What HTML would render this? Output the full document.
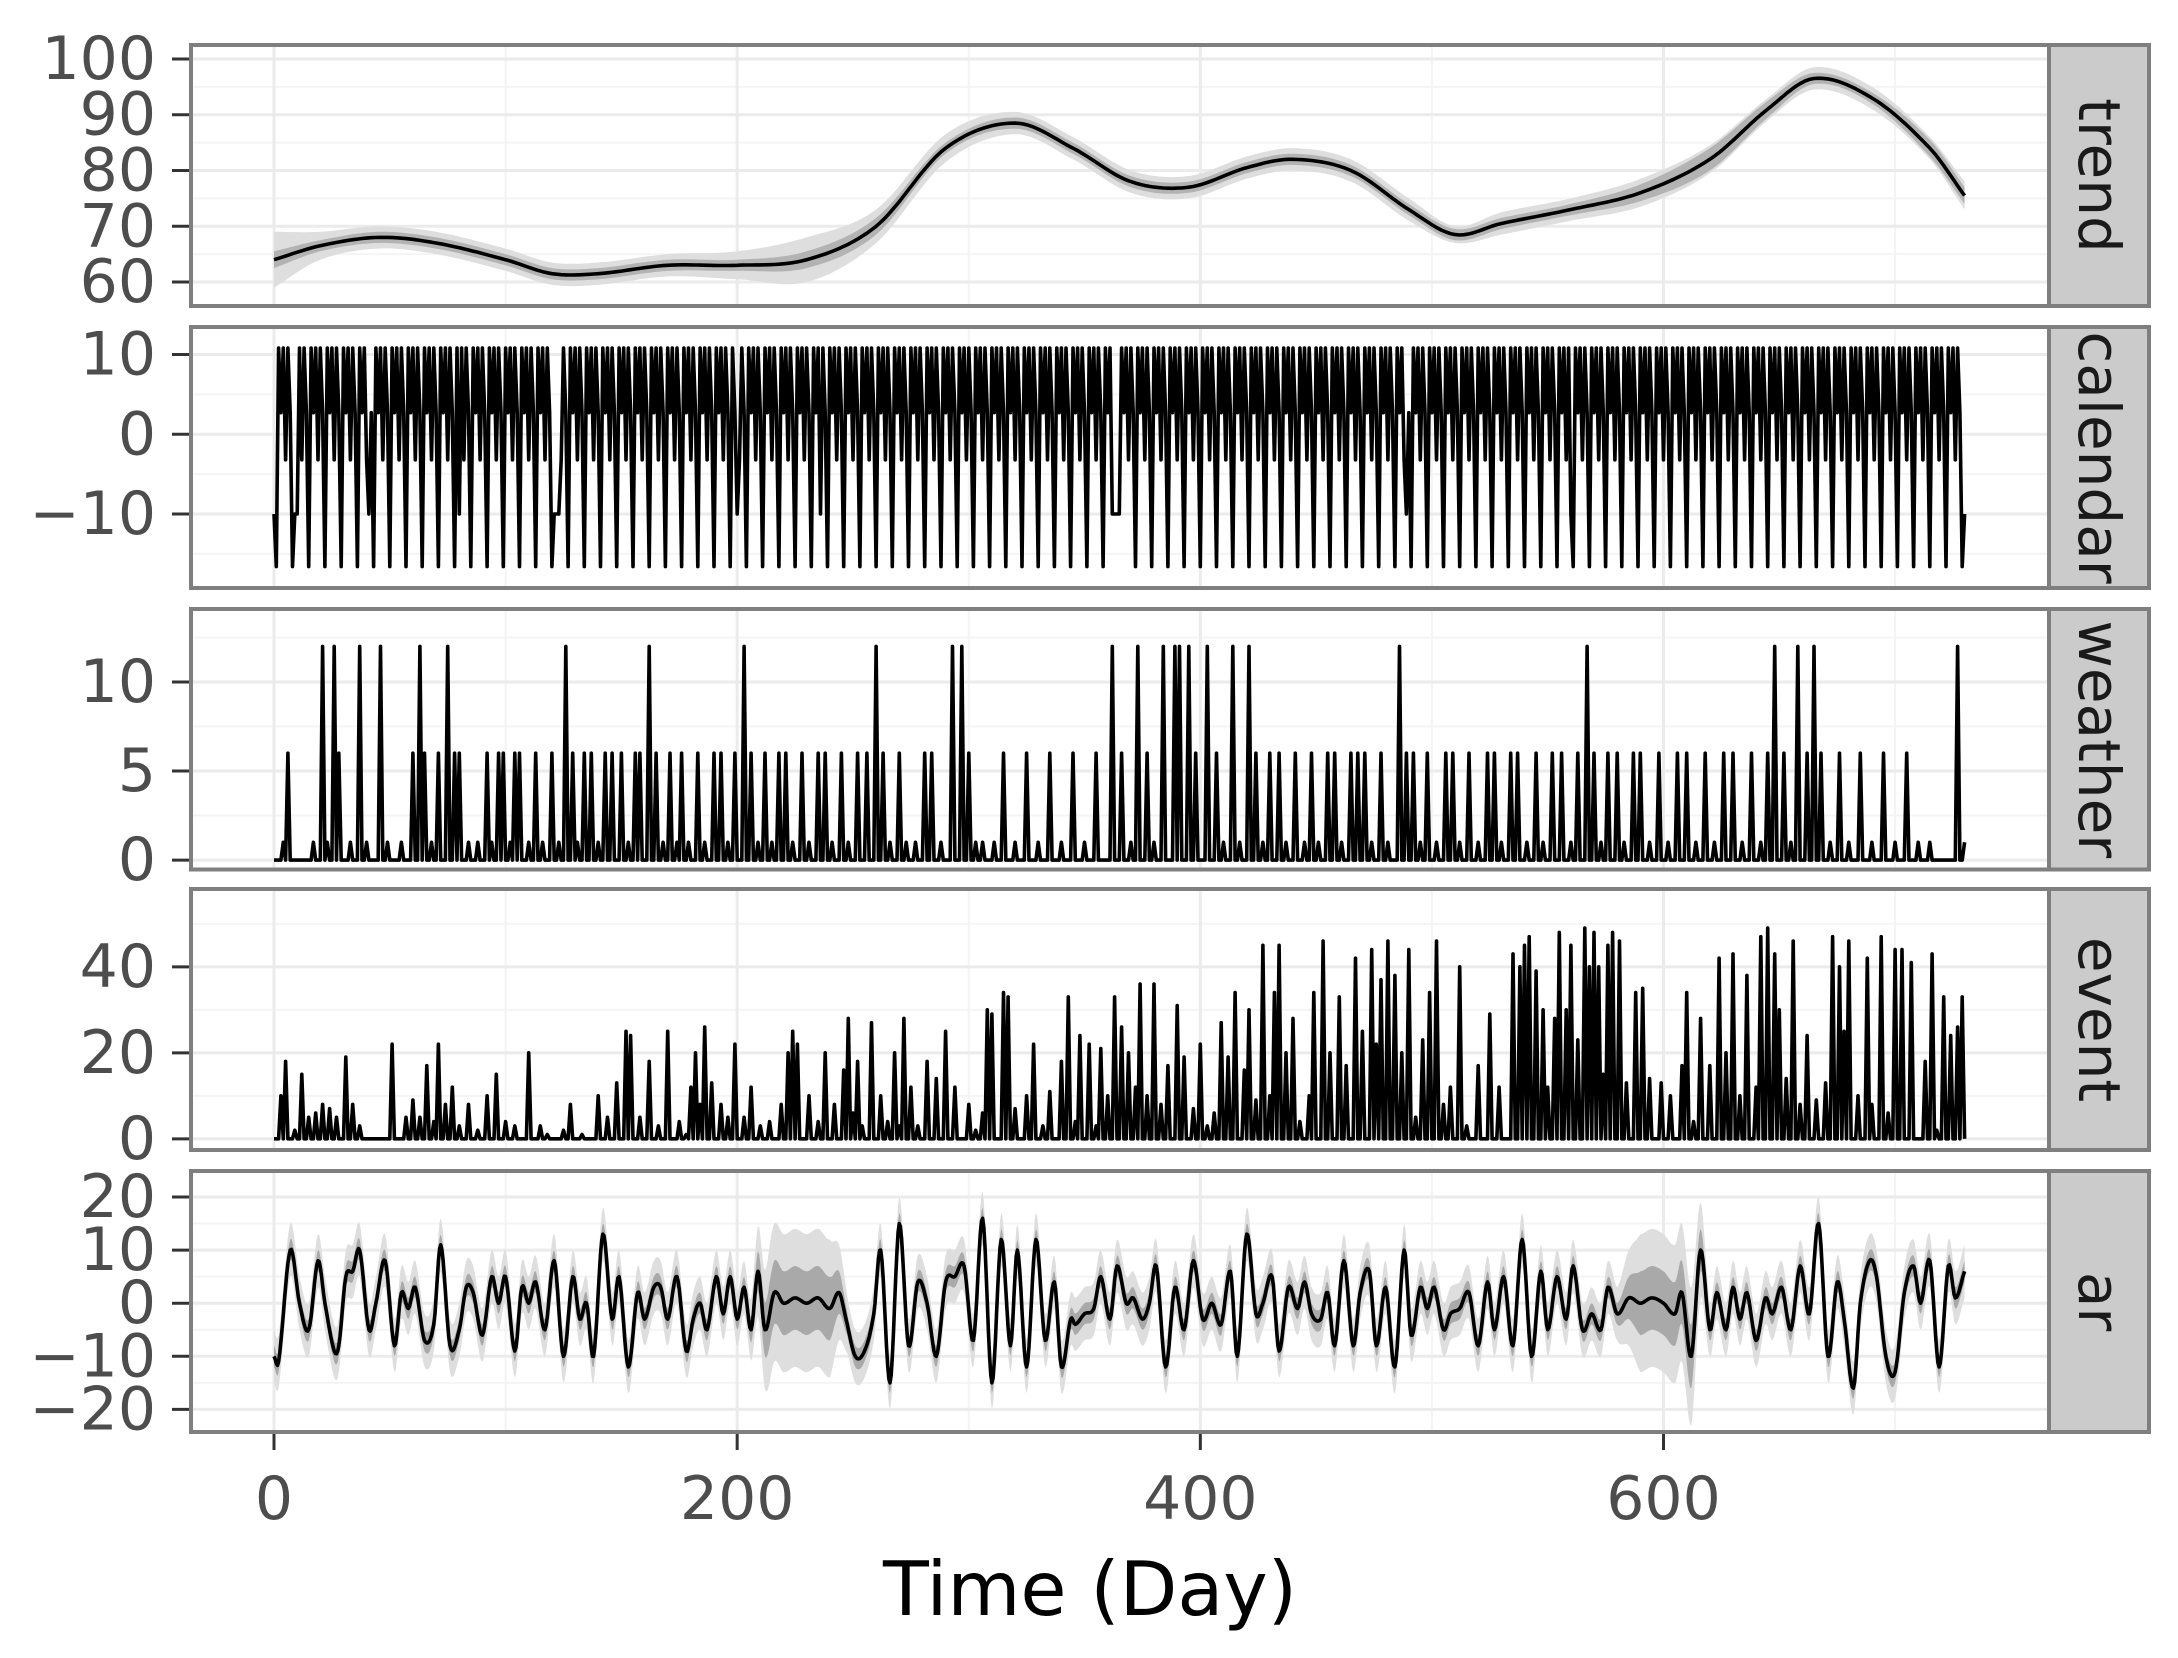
<!DOCTYPE html>
<html><head><meta charset="utf-8"><style>
html,body{margin:0;padding:0;background:#fff;}
svg{display:block;font-family:"DejaVu Sans","Liberation Sans",sans-serif;}
</style></head><body>
<svg id="chart" width="2178" height="1658" viewBox="0 0 2178 1658" xmlns="http://www.w3.org/2000/svg">
<rect x="0" y="0" width="2178" height="1658" fill="#fff"/>
<g id="root"></g>
<text x="1090" y="1615" font-size="75" text-anchor="middle" fill="#000">Time (Day)</text>
</svg>
<script>
// ---- data ----
const xTicks = [0, 200, 400, 600];
const xMinor = [100, 300, 500, 700];
const trendDays = [0,20,45,70,100,120,140,170,200,230,260,290,320,345,370,395,420,440,465,490,510,530,560,590,620,645,665,690,715,730];
const trendMean = [64,66.5,68,67,64,61.5,61.5,63,63,64,70,84,88.5,84,78,77,80.5,82,80,73,68.5,70.5,73,76,82,91,96.5,93,84,75.5];
const trendInner = [1.5,1,1,1,1,1,1,1,1,1.5,1.5,1,1,1,1,1,1,1,1,1,1,1,1,1.5,2,1.5,1,1,1.5,1.5];
const trendOuter = [5,2.5,2,2,2,2,2,2,2.5,4,3,2.5,2,2,2,2,2,2,2,2,1.5,2,2,2.5,2.5,2,2,2,2,2.5];
const calendarWeek = [-16.6, 10.8, 2.7, 10.8, -3.2, 10.8, 2.7];
const calendarHolidays = [0, 9, 10, 41, 80, 121, 122, 123, 200, 236, 362, 363, 364, 365, 489, 560, 730];
const weatherDays = [4,6,17,21,23,26,28,33,37,40,46,49,55,60,63,65,68,71,75,78,80,84,88,92,94,97,99,102,104,106,110,113,116,120,123,126,129,131,134,137,140,143,146,150,153,156,158,162,165,168,171,174,176,179,183,186,190,193,196,199,203,206,209,212,215,218,221,224,228,231,235,238,241,245,248,252,256,260,263,266,270,273,277,281,284,288,293,297,300,303,306,311,315,320,325,330,335,340,345,350,355,362,366,370,373,377,380,384,389,391,395,398,403,407,410,414,417,421,424,427,430,434,437,441,445,448,451,455,458,461,465,468,471,474,478,481,486,489,492,495,498,502,506,509,512,516,520,524,527,530,534,537,541,545,548,552,556,560,563,567,570,573,576,580,583,587,590,594,598,602,606,610,614,618,622,626,630,634,638,642,645,648,652,655,658,662,665,668,672,676,680,685,690,695,700,705,710,715,727,730];
const weatherVals = [1,6,1,12,1,12,6,1,12,1,12,1,1,6,12,6,1,6,12,6,6,1,1,6,1,6,6,1,6,6,1,6,1,6,1,12,6,1,6,6,1,6,6,6,1,6,6,12,6,1,6,1,6,1,6,1,6,6,1,6,12,6,1,6,1,6,6,1,6,1,6,6,1,6,1,6,6,12,6,1,6,1,1,6,6,1,12,12,6,1,1,1,6,1,6,1,6,1,6,1,6,12,6,1,12,6,1,12,12,12,12,6,12,6,1,12,1,12,6,1,6,6,1,6,1,6,1,6,6,1,6,6,6,1,6,1,12,6,6,1,6,1,6,6,1,6,1,6,6,1,6,6,1,6,1,6,6,1,6,12,6,1,6,6,1,6,6,1,6,1,6,6,1,6,1,6,6,1,6,1,6,12,6,1,12,6,12,6,1,6,1,6,1,6,1,6,1,1,12,1];
const eventDays = [3,5,9,12,15,18,21,24,27,31,34,37,51,57,60,63,66,69,71,74,77,80,84,88,92,96,100,104,110,115,118,125,128,133,140,144,148,152,154,158,162,166,170,175,178,180,182,184,186,189,193,196,199,203,206,210,214,219,222,224,226,231,235,238,242,246,248,250,252,254,258,262,265,268,270,272,275,278,282,286,290,294,300,303,306,308,310,315,317,320,325,328,332,335,340,343,346,348,352,355,357,360,363,366,369,372,374,377,380,383,386,390,393,397,400,403,406,409,412,415,419,421,424,427,430,432,434,437,440,443,447,449,453,456,460,463,467,470,474,476,478,481,484,487,490,493,496,499,502,505,508,512,515,520,525,529,535,538,540,542,545,548,550,553,555,558,560,563,566,568,570,572,574,576,578,581,584,588,591,594,599,603,608,610,613,616,620,624,627,630,633,636,640,642,645,648,650,653,656,659,662,666,670,673,676,678,680,684,688,690,694,697,700,703,707,713,716,718,721,724,727,729];
const eventVals = [10,18,2,15,5,6,8,7,5,19,8,3,22,5,9,5,17,4,22,8,12,3,8,2,10,15,4,3,20,3,1,2,8,1,10,5,13,25,24,5,18,3,25,4,1,12,20,8,26,13,8,5,22,5,12,3,4,8,20,25,22,10,4,20,8,16,28,6,18,3,27,10,4,20,3,28,12,3,18,14,25,12,8,2,6,30,29,34,33,7,10,22,3,11,18,33,4,24,22,3,21,10,33,26,20,12,36,10,36,8,17,31,19,7,22,3,6,27,19,34,16,30,9,45,10,34,45,20,28,4,10,34,46,20,33,17,42,25,44,22,37,46,38,20,44,5,23,34,46,8,12,40,3,17,29,12,43,40,45,47,39,30,12,28,48,30,45,23,49,40,48,40,15,45,48,46,13,34,35,14,13,10,17,34,4,28,17,42,20,43,10,38,12,47,49,43,30,14,46,8,24,9,13,47,40,25,46,10,42,8,47,6,44,44,41,18,43,2,33,24,26,33];
const arDays = [0,2,7,11,15,19,22,26,28,31,34,37,41,44,48,52,55,58,61,65,69,72,76,80,83,86,90,94,97,100,104,107,110,113,117,121,125,129,132,135,138,142,146,149,153,157,160,164,167,170,174,178,181,184,187,191,194,197,200,203,206,209,212,216,220,225,230,235,240,244,247,251,255,259,262,266,270,274,278,282,286,290,294,298,302,306,310,314,318,321,325,329,333,337,340,344,346,350,354,357,361,364,368,371,375,378,381,385,389,393,397,401,405,409,413,416,420,424,427,431,434,438,442,445,448,452,455,458,462,466,469,473,476,480,484,488,491,495,498,501,505,508,512,516,520,524,527,531,535,539,543,547,550,554,558,561,565,569,573,576,580,585,590,595,600,605,608,612,616,620,623,627,630,633,636,640,644,647,651,655,659,663,667,671,675,678,682,685,689,692,696,700,704,708,711,715,719,723,726,730];
const arVals = [-10,-11,10,0,-5,8,0,-9,-8,5,6,10,-5,0,8,-8,2,-1,3,-7,-4,11,-8,-5,3,2,-6,5,0,5,-9,3,0,4,-5,8,-10,5,-3,0,-10,13,-3,5,-12,2,-3,3,3,-3,5,-9,-3,0,-5,5,-2,5,-3,3,-5,6,-5,2,0,1,0,1,-1,2,-3,-10,-9,-2,10,-15,15,-8,4,0,-10,4,5,7,-7,16,-15,12,-8,10,-12,12,-7,4,-12,-3,-4,-2,-1,5,-3,7,0,1,-3,0,7,-12,3,-5,8,-3,0,-4,6,-10,13,-2,0,5,-9,3,-1,4,-2,-3,2,-8,8,-8,2,6,-8,3,-12,10,-6,3,-1,3,-5,-2,-1,2,-8,4,-5,5,-8,12,-10,6,-5,5,-3,7,-5,-2,-5,3,-2,1,0,1,0,-2,2,-10,10,-5,2,-5,3,-3,2,-7,1,-2,3,-5,7,-2,15,-10,4,-3,-16,0,8,5,-10,-13,2,7,0,8,-12,7,1,6];
const arBandDays = [0,205,214,240,248,580,590,612,620,730];
const arInner = [2,2,6,6,2,2,6,6,2,2];
const arOuter = [5,5,13,13,5,5,13,13,5,5];

// ---- layout ----
const PX0 = 191, PX1 = 2049, SX1 = 2149;
const X = d => 274 + d * (1663.5 - 274) / 600;
const panels = [
  {name:'trend', top:45, bot:306, vTop:102.5, vBot:55.7, ticks:[60,70,80,90,100], minor:[55,65,75,85,95]},
  {name:'calendar', top:327, bot:588, vTop:13.45, vBot:-19.28, ticks:[-10,0,10], minor:[-15,-5,5]},
  {name:'weather', top:609, bot:869.5, vTop:14.1, vBot:-0.53, ticks:[0,5,10], minor:[2.5,7.5,12.5]},
  {name:'event', top:889, bot:1150, vTop:58.1, vBot:-2.6, ticks:[0,20,40], minor:[10,30,50]},
  {name:'ar', top:1171, bot:1432, vTop:24.9, vBot:-24.26, ticks:[-20,-10,0,10,20], minor:[-15,-5,5,15]}
];
const NS = 'http://www.w3.org/2000/svg';
const root = document.getElementById('root');
function mk(tag, attrs, parent){ const e=document.createElementNS(NS,tag); for(const k in attrs) e.setAttribute(k,attrs[k]); (parent||root).appendChild(e); return e; }
function yScale(p){ return v => p.top + (p.vTop - v) / (p.vTop - p.vBot) * (p.bot - p.top); }
function fmt(v){ return v < 0 ? '\u2212' + (-v) : String(v); }

function smooth(days, vals, step){
  const out = [];
  const n = days.length;
  const m = vals.map((v,i)=>{
    if(i===0) return (vals[1]-vals[0])/(days[1]-days[0]);
    if(i===n-1) return (vals[n-1]-vals[n-2])/(days[n-1]-days[n-2]);
    return (vals[i+1]-vals[i-1])/(days[i+1]-days[i-1]);
  });
  for(let i=0;i<n-1;i++){
    const h = days[i+1]-days[i];
    for(let t=0;t<1;t+=step/h){
      const t2=t*t,t3=t2*t;
      const v=(2*t3-3*t2+1)*vals[i]+(t3-2*t2+t)*h*m[i]+(-2*t3+3*t2)*vals[i+1]+(t3-t2)*h*m[i+1];
      out.push([days[i]+t*h, v]);
    }
  }
  out.push([days[n-1], vals[n-1]]);
  return out;
}
function lerp(days, vals, d){
  for(let i=0;i<days.length-1;i++) if(d<=days[i+1]){ const t=(d-days[i])/(days[i+1]-days[i]); return vals[i]+t*(vals[i+1]-vals[i]); }
  return vals[vals.length-1];
}
function linePath(pts, ys){ return pts.map((p,i)=>(i?'L':'M')+X(p[0]).toFixed(1)+' '+ys(p[1]).toFixed(1)).join(''); }
function bandPath(lo, hi, ys){
  let s = lo.map((p,i)=>(i?'L':'M')+X(p[0]).toFixed(1)+' '+ys(p[1]).toFixed(1)).join('');
  for(let i=hi.length-1;i>=0;i--) s += 'L'+X(hi[i][0]).toFixed(1)+' '+ys(hi[i][1]).toFixed(1);
  return s+'Z';
}
function expand(days, vals){ const a=new Array(731).fill(0); days.forEach((d,i)=>a[d]=vals[i]); return a.map((v,i)=>[i,v]); }

panels.forEach((p, pi) => {
  const ys = yScale(p);
  const g = mk('g', {});
  
  
  const clipId = 'clip' + pi;
  const cp = mk('clipPath', {id: clipId}, g);
  mk('rect', {x:PX0, y:p.top, width:PX1-PX0, height:p.bot-p.top}, cp);
  mk('rect', {x:PX0, y:p.top, width:PX1-PX0, height:p.bot-p.top, fill:'#fff'}, g);
  const grid = mk('g', {'clip-path':'url(#'+clipId+')'}, g);
  
  
  p.minor.forEach(v => mk('line', {x1:PX0, x2:PX1, y1:ys(v), y2:ys(v), stroke:'#f4f4f4', 'stroke-width':2}, grid));
  xMinor.forEach(d => mk('line', {x1:X(d), x2:X(d), y1:p.top, y2:p.bot, stroke:'#f4f4f4', 'stroke-width':2}, grid));
  p.ticks.forEach(v => mk('line', {x1:PX0, x2:PX1, y1:ys(v), y2:ys(v), stroke:'#ebebeb', 'stroke-width':3}, grid));
  xTicks.forEach(d => mk('line', {x1:X(d), x2:X(d), y1:p.top, y2:p.bot, stroke:'#ebebeb', 'stroke-width':3}, grid));
  const sg = mk('g', {'clip-path':'url(#'+clipId+')'}, g);
  let pts;
  if(p.name==='trend'){
    const lo2 = smooth(trendDays, trendMean.map((v,i)=>v-trendOuter[i]), 2);
    const hi2 = smooth(trendDays, trendMean.map((v,i)=>v+trendOuter[i]), 2);
    const lo1 = smooth(trendDays, trendMean.map((v,i)=>v-trendInner[i]), 2);
    const hi1 = smooth(trendDays, trendMean.map((v,i)=>v+trendInner[i]), 2);
    const b2 = mk('path', {d:bandPath(lo2,hi2,ys), fill:'#dedede'}, sg);
    
    
    const b1 = mk('path', {d:bandPath(lo1,hi1,ys), fill:'#b3b3b3'}, sg);
    
    
    pts = smooth(trendDays, trendMean, 2);
  } else if(p.name==='calendar'){
    pts = [];
    for(let d=0; d<=730; d++){
      const v = calendarHolidays.includes(d) ? -10 : calendarWeek[((d-1)%7+7)%7];
      pts.push([d, v]);
    }
  } else if(p.name==='weather'){
    pts = expand(weatherDays, weatherVals);
  } else if(p.name==='event'){
    pts = expand(eventDays, eventVals);
  } else {
    const mean = smooth(arDays, arVals, 0.5);
    const lo2 = mean.map(q=>[q[0], q[1]-lerp(arBandDays, arOuter, q[0])]);
    const hi2 = mean.map(q=>[q[0], q[1]+lerp(arBandDays, arOuter, q[0])]);
    const lo1 = mean.map(q=>[q[0], q[1]-lerp(arBandDays, arInner, q[0])]);
    const hi1 = mean.map(q=>[q[0], q[1]+lerp(arBandDays, arInner, q[0])]);
    const b2 = mk('path', {d:bandPath(lo2,hi2,ys), fill:'#dedede'}, sg);
    
    
    const b1 = mk('path', {d:bandPath(lo1,hi1,ys), fill:'#a9a9a9'}, sg);
    
    
    pts = mean;
  }
  const ln = mk('path', {d:linePath(pts, ys), fill:'none', stroke:'#000', 'stroke-width':3.6, 'stroke-linejoin':'round'}, sg);
  
  
  mk('rect', {x:PX0, y:p.top, width:PX1-PX0, height:p.bot-p.top, fill:'none', stroke:'#7f7f7f', 'stroke-width':4}, g);
  const st = mk('rect', {x:PX1, y:p.top, width:SX1-PX1, height:p.bot-p.top, fill:'#cbcbcb', stroke:'#7f7f7f', 'stroke-width':4}, g);
  
  
  const cy = (p.top+p.bot)/2;
  const stx = mk('text', {x:0, y:0, transform:'translate(2099,'+cy+') rotate(90)', 'font-size':58, 'text-anchor':'middle', 'dominant-baseline':'central', fill:'#1a1a1a'}, g);
  stx.textContent = p.name;
  
  
  p.ticks.forEach(v => {
    mk('line', {x1:172, x2:PX0-2, y1:ys(v), y2:ys(v), stroke:'#333', 'stroke-width':3}, g);
    const t = mk('text', {x:156, y:ys(v), 'font-size':60, 'text-anchor':'end', 'dominant-baseline':'central', fill:'#4d4d4d'}, g);
    t.textContent = fmt(v);
    
    
  });
});
const lastBot = panels[panels.length-1].bot;
xTicks.forEach(d => {
  mk('line', {x1:X(d), x2:X(d), y1:lastBot+2, y2:lastBot+18, stroke:'#333', 'stroke-width':3});
  const t = mk('text', {x:X(d), y:1499, 'font-size':60, 'text-anchor':'middle', 'dominant-baseline':'central', fill:'#4d4d4d'});
  t.textContent = String(d);
  
  
});
</script>
</body></html>
